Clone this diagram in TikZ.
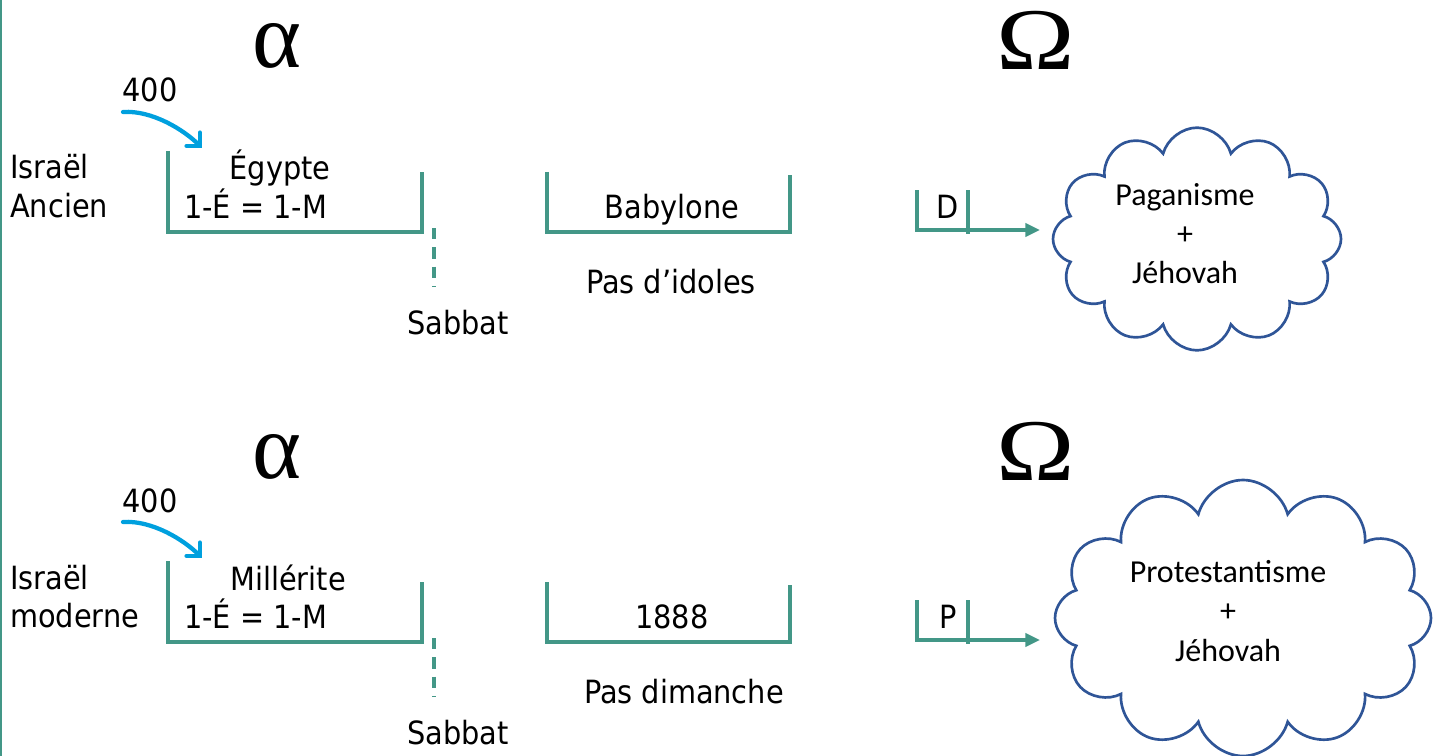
\documentclass[tikz,border=0pt]{standalone}
\usepackage{fontspec}
\setmainfont{DejaVu Sans Condensed}
\newfontfamily\cloudfont{Carlito}
\newfontfamily\greekfont{Liberation Serif}
\usetikzlibrary{arrows.meta,shapes.symbols}
\definecolor{tealline}{RGB}{67,151,135}
\definecolor{cloudblue}{RGB}{47,85,151}
\definecolor{arrowblue}{RGB}{0,160,222}

\begin{document}
\begin{tikzpicture}[
		x=0.75pt,y=-0.75pt,
		every node/.style={inner sep=0pt},
		txt/.style={font=\fontsize{24}{29}\selectfont,anchor=base},
		txtl/.style={txt,anchor=base west},
		ctxt/.style={font=\cloudfont\fontsize{24}{29}\selectfont,anchor=base},
		greek/.style={font=\greekfont\fontsize{66}{66}\selectfont,anchor=base},
		bar/.style={draw=tealline,line width=2.4pt},
		sab/.style={draw=tealline,line width=2.4pt,dash pattern=on 8.5pt off 6pt},
		tip/.style={-{Triangle[length=11pt,width=10pt]}},
		puff/.style={cloud,cloud puffs=12,cloud ignores aspect,draw=cloudblue,line width=2pt},
		hook/.style={draw=arrowblue,line width=3.2pt,line cap=round,-{Straight Barb[angle=90:10pt,line cap=round]}}
		]
		\useasboundingbox (0,0) rectangle (1441,756);
		\draw[draw=tealline,line width=1.5pt] (1,0) -- (1,756);
		
		% Israel ancien
		\node[greek,font=\greekfont\fontsize{70}{70}\selectfont] (alpha1) at (277,68) {α};
		\node[greek,xscale=1.2] (omega1) at (1036,70) {Ω};
		\node[txt] (ans1) at (150,102) {400};
		\node[txtl] (isr1) at (10,179) {Israël};
		\node[txtl] (anc1) at (10,217) {Ancien};
		\node[txt] (egy) at (280,180) {Égypte};
		\node[txtl] (eq1) at (184,218) {1-É = 1-M};
		\node[txt] (bab) at (672,218) {Babylone};
		\node[txt] (idol) at (671,293) {Pas d’idoles};
		\node[txt] (sab1) at (458,334) {Sabbat};
		\node[txt] (dd) at (948,218) {D};
		\node[puff,minimum width=216pt,minimum height=167pt] (pag) at (1197,239) {};
		\node[ctxt] (pag1) at (1185,205) {Paganisme};
		\node[ctxt] (plus1) at (1185,244) {+};
		\node[ctxt] (jeh1) at (1185,283) {Jéhovah};
		\coordinate (s1) at (123,112);
		\coordinate (t1) at (202,148);
		\coordinate (e1) at (1040,230);
		\draw[hook] (s1) .. controls (152,110) and (184,130) .. (t1);
		\draw[bar] (168,151) |- (422,232) -- (422,172);
		\draw[bar] (547,172) |- (790,232) -- (790,175);
		\draw[sab] (434,228) -- (434,287);
		\draw[bar] (968,190) -- (968,234);
		\draw[bar,tip] (917,190) |- (e1);
		
		% Israel moderne
		\node[greek,font=\greekfont\fontsize{70}{70}\selectfont] (alpha2) at (277,478) {α};
		\node[greek,xscale=1.2] (omega2) at (1036,480) {Ω};
		\node[txt] (ans2) at (150,512) {400};
		\node[txtl] (isr2) at (10,589) {Israël};
		\node[txtl] (mod) at (10,627) {moderne};
		\node[txt] (mil) at (288,590) {Millérite};
		\node[txtl] (eq2) at (184,628) {1-É = 1-M};
		\node[txt] (yr) at (672,628) {1888};
		\node[txt] (dim) at (684,703) {Pas dimanche};
		\node[txt] (sab2) at (458,744) {Sabbat};
		\node[txt] (pp) at (948,628) {P};
		\node[puff,minimum width=282pt,minimum height=207pt] (prot) at (1243,618) {};
		\node[ctxt] (prot1) at (1228,582) {Protestantisme};
		\node[ctxt] (plus2) at (1228,621) {+};
		\node[ctxt] (jeh2) at (1228,661) {Jéhovah};
		\coordinate (s2) at (123,522);
		\coordinate (t2) at (202,558);
		\coordinate (e2) at (1040,640);
		\draw[hook] (s2) .. controls (152,520) and (184,540) .. (t2);
		\draw[bar] (168,561) |- (422,642) -- (422,582);
		\draw[bar] (547,582) |- (790,642) -- (790,585);
		\draw[sab] (434,638) -- (434,697);
		\draw[bar] (968,600) -- (968,644);
		\draw[bar,tip] (917,600) |- (e2);
		
\end{tikzpicture}
\end{document}
